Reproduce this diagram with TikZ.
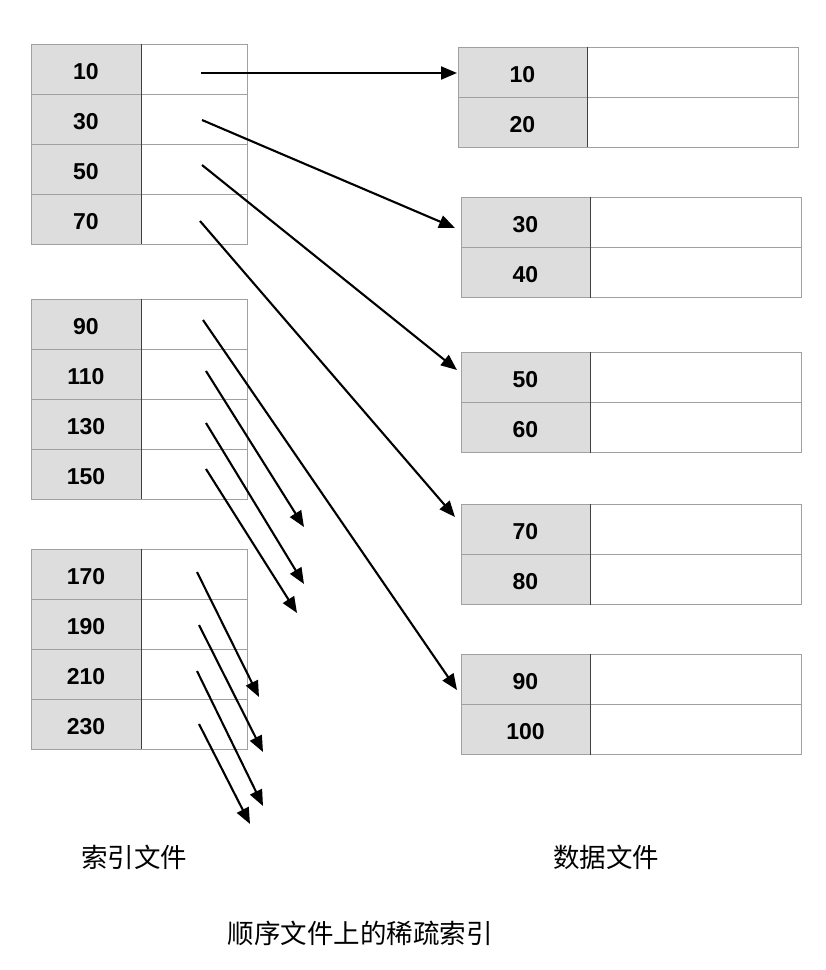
\documentclass[tikz,border=0pt]{standalone}
\usepackage{fontspec}
\setmainfont{Liberation Sans}
\newfontfamily\cjk{Noto Sans CJK SC}
\usetikzlibrary{arrows.meta}
\definecolor{cellgray}{HTML}{DDDDDD}
\definecolor{edgegray}{HTML}{A0A0A0}
\tikzset{
  keycell/.style={draw=edgegray, line width=0.9pt, fill=cellgray, minimum width=110pt, minimum height=50pt, inner sep=0pt, anchor=north west, text height=21pt, text depth=0pt, font=\fontsize{23}{26}\selectfont\bfseries},
  ptrcell/.style={draw=edgegray, line width=0.9pt, fill=white, minimum width=106pt, minimum height=50pt, inner sep=0pt, anchor=north west},
  dptrcell/.style={draw=edgegray, line width=0.9pt, fill=white, minimum width=211pt, minimum height=50pt, inner sep=0pt, anchor=north west},
  divider/.style={draw=black!75, line width=0.9pt},
  ptr/.style={draw=black, line width=2.1pt, -{Triangle[length=16pt,width=13pt]}},
  captext/.style={font=\cjk\fontsize{26.5}{30}\selectfont}
}
\begin{document}
\begin{tikzpicture}[x=1pt,y=-1pt]
\useasboundingbox (0,0) rectangle (826,970);
% index file blocks
\foreach \b/\t/\vals in {1/43.5/{10,30,50,70},2/298.5/{90,110,130,150},3/548.5/{170,190,210,230}}{
  \foreach \v [count=\r] in \vals {
    \node[keycell] (ik-\b-\r) at (30.5,{\t+50*(\r-1)}) {\v};
    \node[ptrcell] (ip-\b-\r) at (140.5,{\t+50*(\r-1)}) {};
    \draw[divider] (ik-\b-\r.north east) -- (ik-\b-\r.south east);
  }
}
% data file blocks
\foreach \b/\x/\t/\vals in {1/457.5/46.5/{10,20},2/460.5/197/{30,40},3/460.5/352/{50,60},4/460.5/504/{70,80},5/460.5/654/{90,100}}{
  \foreach \v [count=\r] in \vals {
    \node[keycell, minimum width=129pt] (dk-\b-\r) at (\x,{\t+50*(\r-1)}) {\v};
    \node[dptrcell] (dp-\b-\r) at (\x+129,{\t+50*(\r-1)}) {};
    \draw[divider] (dk-\b-\r.north east) -- (dk-\b-\r.south east);
  }
}
% pointer start and end coordinates
\coordinate (s1) at (201,73);  \coordinate (e1) at (457,73);
\coordinate (s2) at (202,120); \coordinate (e2) at (455,228);
\coordinate (s3) at (202,165); \coordinate (e3) at (457,370);
\coordinate (s4) at (200,221); \coordinate (e4) at (455,517);
\coordinate (s5) at (203,320); \coordinate (e5) at (457,690);
\coordinate (s6) at (206,371); \coordinate (e6) at (304,527);
\coordinate (s7) at (206,423); \coordinate (e7) at (304,584);
\coordinate (s8) at (206,469); \coordinate (e8) at (297,613);
\coordinate (s9) at (197,572); \coordinate (e9) at (259,697);
\coordinate (s10) at (199,625); \coordinate (e10) at (263,752);
\coordinate (s11) at (197,671); \coordinate (e11) at (263,806);
\coordinate (s12) at (199,724); \coordinate (e12) at (250,824);
\foreach \i in {1,...,12}{\draw[ptr] (s\i) -- (e\i);}
% captions
\node[captext] (capidx) at (134,857) {索引文件};
\node[captext] (capdata) at (606,857) {数据文件};
\node[captext] (title) at (360,933) {顺序文件上的稀疏索引};
\end{tikzpicture}
\end{document}
